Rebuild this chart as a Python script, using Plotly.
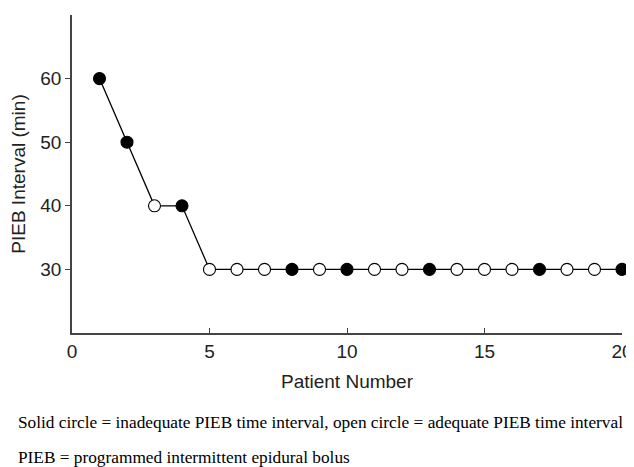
import plotly.graph_objects as go

patient = list(range(1, 21))
interval = [60, 50, 40, 40, 30, 30, 30, 30, 30, 30, 30, 30, 30, 30, 30, 30, 30, 30, 30, 30]
inadequate = [1, 1, 0, 1, 0, 0, 0, 1, 0, 1, 0, 0, 1, 0, 0, 0, 1, 0, 0, 1]
x_ticks = [0, 5, 10, 15, 20]
y_ticks = [30, 40, 50, 60]
caption1 = "Solid circle = inadequate PIEB time interval, open circle = adequate PIEB time interval"
caption2 = "PIEB = programmed intermittent epidural bolus"

fill = ["black" if f else "white" for f in inadequate]

fig = go.Figure()
fig.add_trace(go.Scatter(
    x=patient, y=interval, mode="lines+markers",
    line=dict(color="black", width=1.3),
    marker=dict(size=12, color=fill, line=dict(color="black", width=1.1)),
    cliponaxis=False, showlegend=False,
))

font_sans = "Liberation Sans, Arial, sans-serif"
# page body has an 8px margin; figure sized so plot area lands at x 72-622, y 15-333
fig.update_layout(
    width=626, height=459,
    margin=dict(l=64, r=12, t=7, b=134),
    plot_bgcolor="white", paper_bgcolor="white",
    font=dict(family=font_sans, size=19, color="#222"),
    xaxis=dict(range=[0, 20], tickvals=x_ticks, ticks="inside", ticklen=5,
               tickcolor="#444", showline=True, linecolor="#444", linewidth=1.5,
               showgrid=False, zeroline=False, automargin=False,
               title=dict(text="Patient Number", standoff=14, font=dict(size=19))),
    yaxis=dict(range=[20, 70], tickvals=y_ticks, ticks="outside", ticklen=5,
               tickcolor="#444", showline=True, linecolor="#444", linewidth=1.5,
               showgrid=False, zeroline=False, automargin=False,
               title=dict(text="PIEB Interval (min)", standoff=14, font=dict(size=19))),
)

font_serif = "Liberation Serif, Times New Roman, serif"
fig.add_annotation(text=caption1, xref="paper", yref="paper",
                   x=(16 - 72) / 550, y=(333 - 422) / 318, xanchor="left", yanchor="middle",
                   showarrow=False, font=dict(family=font_serif, size=17.3, color="black"))
fig.add_annotation(text=caption2, xref="paper", yref="paper",
                   x=(16 - 72) / 550, y=(333 - 457) / 318, xanchor="left", yanchor="middle",
                   showarrow=False, font=dict(family=font_serif, size=17.3, color="black"))

fig.write_html("out.html")
